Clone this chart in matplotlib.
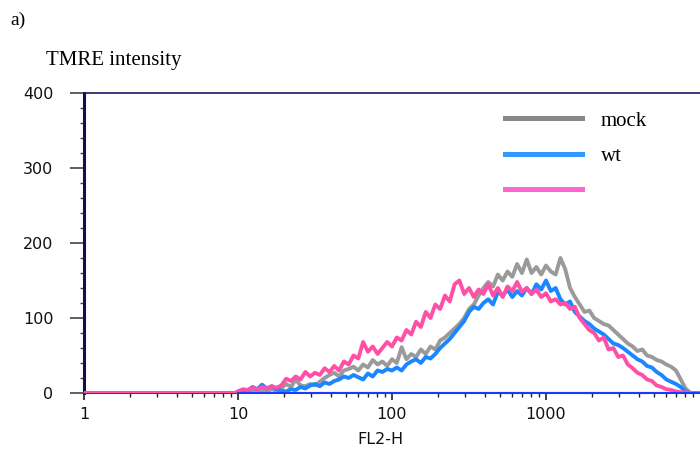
import numpy as np
import matplotlib
matplotlib.use('Agg')
import matplotlib.pyplot as plt
from matplotlib.lines import Line2D
from matplotlib.ticker import MultipleLocator, LogLocator, NullFormatter, FixedLocator, FixedFormatter

# histogram channels (1024-channel log amp, 4 decades), shown from channel 256 (=10)
channels = np.arange(256, 1009, 8)
fl2 = 10 ** (channels / 256)

mock = [1, 3, 2, 4, 3, 4, 2, 5, 3, 6,
        12, 8, 18, 10, 9, 12, 10, 15, 20, 24,
        27, 22, 30, 32, 35, 30, 38, 34, 44, 38,
        42, 36, 45, 40, 61, 45, 52, 48, 58, 52,
        62, 58, 70, 74, 80, 86, 92, 100, 112, 118,
        130, 140, 148, 142, 158, 150, 162, 155, 172, 160,
        178, 160, 168, 158, 170, 162, 158, 180, 165, 140,
        128, 118, 108, 110, 100, 96, 92, 90, 84, 78,
        72, 66, 62, 56, 58, 50, 48, 44, 42, 38,
        35, 30, 18, 6, 0]

wt = [2, 4, 3, 8, 5, 11, 6, 9, 5, 3,
      2, 5, 4, 8, 6, 10, 12, 9, 14, 12,
      16, 18, 22, 20, 24, 21, 18, 26, 22, 30,
      28, 32, 30, 34, 30, 38, 42, 45, 40, 48,
      46, 52, 60, 66, 72, 80, 88, 96, 108, 115,
      112, 120, 125, 118, 135, 130, 138, 128, 136, 130,
      140, 132, 145, 138, 150, 136, 140, 125, 118, 122,
      108, 102, 96, 92, 86, 82, 78, 72, 66, 64,
      60, 55, 50, 45, 42, 36, 34, 28, 24, 18,
      15, 12, 8, 2, 0]

third = [2, 5, 4, 7, 5, 8, 6, 9, 7, 10,
         19, 16, 22, 18, 28, 22, 27, 24, 33, 28,
         36, 30, 42, 38, 50, 46, 68, 55, 62, 52,
         60, 68, 62, 74, 70, 84, 78, 95, 88, 108,
         100, 118, 112, 130, 122, 145, 150, 132, 140, 128,
         138, 132, 145, 130, 140, 128, 142, 136, 148, 135,
         140, 132, 138, 128, 133, 122, 125, 118, 120, 112,
         115, 100, 92, 84, 80, 70, 74, 58, 60, 48,
         50, 38, 33, 27, 24, 18, 16, 10, 8, 5,
         4, 2, 1, 1, 0]

labels = ['mock', 'wt', '']
line_colors = ['#9a9a9a', '#1a86ff', '#ff4fa6']
legend_colors = ['#888888', '#3399ff', '#ff66cc']

fig = plt.figure(figsize=(7, 4.53), dpi=100)
ax = fig.add_axes([0.12, 0.1325, 0.88, 0.662])

x_full = np.concatenate([[1.0, 9.6], fl2, [10000.0]])
for vals, c, z in zip([mock, wt, third], line_colors, [2, 3, 4]):
    y_full = np.concatenate([[0, 0], vals, [0]])
    ax.plot(x_full, y_full, color=c, lw=2.8, zorder=z)
# zero line of wt above 10
ax.plot([10, 10000], [0, 0], color='#1a3cff', lw=2.2, zorder=5)

ax.set_xscale('log')
ax.set_xlim(1, 10000)
ax.set_ylim(0, 400)

ax.spines['right'].set_visible(False)
ax.spines['top'].set_color('#1a1a66')
ax.spines['top'].set_linewidth(1.2)
ax.spines['left'].set_color('#101050')
ax.spines['left'].set_linewidth(2.2)
ax.spines['bottom'].set_color('#444444')
ax.spines['bottom'].set_linewidth(1.5)

ax.yaxis.set_major_locator(MultipleLocator(100))
ax.yaxis.set_minor_locator(MultipleLocator(20))
ax.tick_params(axis='y', which='major', length=10, width=1.2, color='#444444',
               direction='out', labelsize=11.5, pad=12)
ax.tick_params(axis='y', which='minor', length=3, width=1.0, color='#444444', direction='out')

ax.xaxis.set_major_locator(FixedLocator([1, 10, 100, 1000]))
ax.xaxis.set_major_formatter(FixedFormatter(['1', '10', '100', '1000']))
ax.xaxis.set_minor_locator(LogLocator(base=10, subs=np.arange(2, 10), numticks=20))
ax.xaxis.set_minor_formatter(NullFormatter())
ax.tick_params(axis='x', which='major', length=5, width=1.2, color='#222222',
               direction='out', labelsize=11.5, pad=5)
ax.tick_params(axis='x', which='minor', length=3, width=1.0, color='#222222', direction='out')

for lab in ax.get_xticklabels() + ax.get_yticklabels():
    lab.set_family('DejaVu Sans')
    lab.set_color('#111111')

fig.text(380 / 700, 1 - 440 / 453, 'FL2-H', fontsize=11.5, family='DejaVu Sans',
         ha='center', va='center', color='#111111')

handles = [Line2D([], [], color=c, lw=3.6) for c in legend_colors]
ax.legend(handles, labels, loc='upper left', bbox_to_anchor=(0.683, 0.94),
          frameon=False, prop={'family': 'Liberation Serif', 'size': 15},
          handlelength=3.7, handletextpad=0.9, labelspacing=0.75,
          borderpad=0, borderaxespad=0)

fig.text(10 / 700, 1 - 20 / 453, 'a)', fontsize=14, family='Liberation Serif', va='center')
fig.text(46 / 700, 1 - 60 / 453, 'TMRE intensity', fontsize=15, family='Liberation Serif', va='center')

fig.savefig('out.png', dpi=100)
